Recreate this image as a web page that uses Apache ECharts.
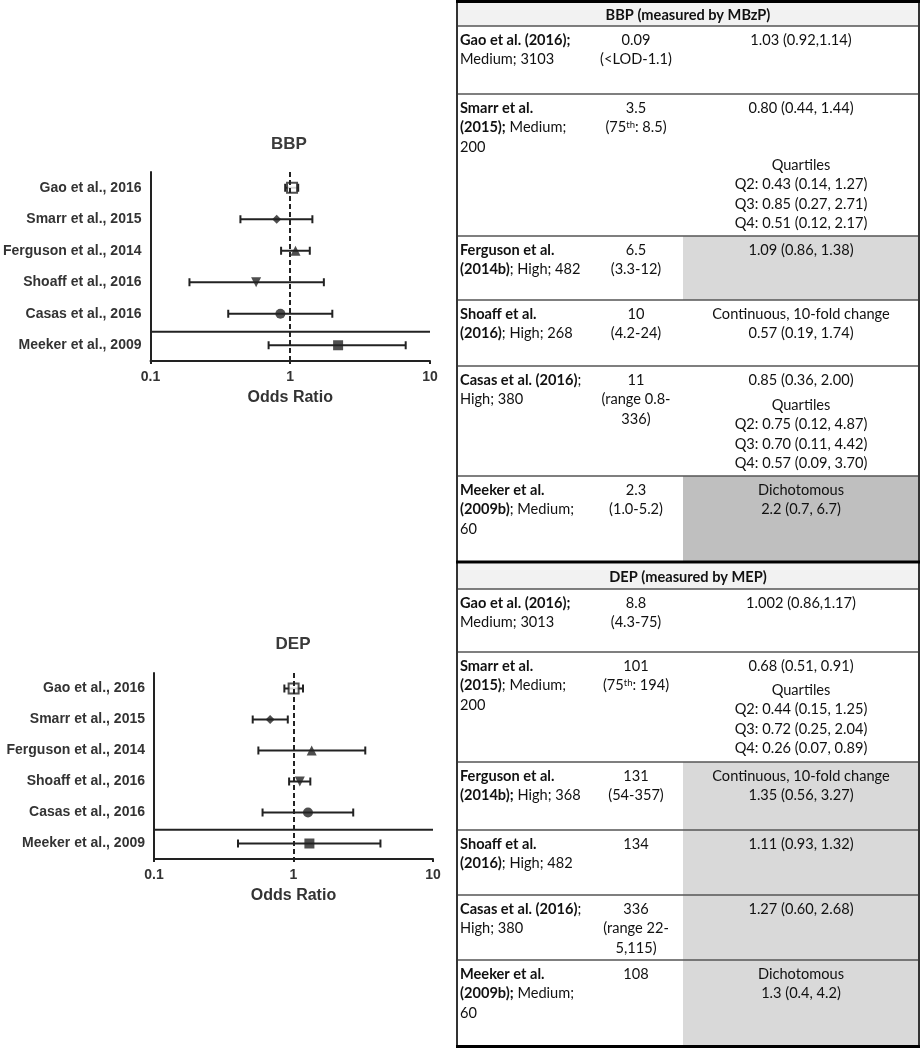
<!DOCTYPE html>
<html><head><meta charset="utf-8">
<script src="https://cdn.jsdelivr.net/npm/echarts@6/dist/echarts.min.js"></script>
<style>html,body{margin:0;padding:0;background:#fff}#c{width:921px;height:1050px}</style>
</head><body><div id="c"></div>
<script>
// ---------------- DATA ----------------
const studies = ['Gao et al., 2016','Smarr et al., 2015','Ferguson et al., 2014','Shoaff et al., 2016','Casas et al., 2016','Meeker et al., 2009'];
const tickLabels = ['0.1','1','10'];
const panelTitles = ['BBP','DEP'];
const axisTitle = 'Odds Ratio';

const bbpOR   = [1.03, 0.80, 1.09, 0.57, 0.85, 2.2];
const bbpLow  = [0.92, 0.44, 0.86, 0.19, 0.36, 0.7];
const bbpHigh = [1.14, 1.44, 1.38, 1.74, 2.00, 6.7];

const depOR   = [1.002, 0.68, 1.35, 1.11, 1.27, 1.3];
const depLow  = [0.86, 0.51, 0.56, 0.93, 0.60, 0.4];
const depHigh = [1.17, 0.91, 3.27, 1.32, 2.68, 4.2];

const tableHeaders = ['BBP (measured by MBzP)', 'DEP (measured by MEP)'];
const bbpStudy = [
  ['{b|Gao et al. (2016);}', 'Medium; 3103'],
  ['{b|Smarr et al.}', '{b|(2015);} Medium;', '200'],
  ['{b|Ferguson et al.}', '{b|(2014b)}; High; 482'],
  ['{b|Shoaff et al.}', '{b|(2016)}; High; 268'],
  ['{b|Casas et al. (2016)};', 'High; 380'],
  ['{b|Meeker et al.}', '{b|(2009b)}; Medium;', '60']
];
const bbpLevel = [['0.09','(<LOD-1.1)'], ['3.5','(75{s|th}: 8.5)'], ['6.5','(3.3-12)'], ['10','(4.2-24)'], ['11','(range 0.8-','336)'], ['2.3','(1.0-5.2)']];
const bbpResult = [['1.03 (0.92,1.14)'], ['0.80 (0.44, 1.44)'], ['1.09 (0.86, 1.38)'], ['Continuous, 10-fold change','0.57 (0.19, 1.74)'], ['0.85 (0.36, 2.00)'], ['Dichotomous','2.2 (0.7, 6.7)']];
const bbpQuart = [null, ['Quartiles','Q2: 0.43 (0.14, 1.27)','Q3: 0.85 (0.27, 2.71)','Q4: 0.51 (0.12, 2.17)'], null, null, ['Quartiles','Q2: 0.75 (0.12, 4.87)','Q3: 0.70 (0.11, 4.42)','Q4: 0.57 (0.09, 3.70)'], null];

const depStudy = [
  ['{b|Gao et al. (2016);}', 'Medium; 3013'],
  ['{b|Smarr et al.}', '{b|(2015)}; Medium;', '200'],
  ['{b|Ferguson et al.}', '{b|(2014b);} High; 368'],
  ['{b|Shoaff et al.}', '{b|(2016)}; High; 482'],
  ['{b|Casas et al. (2016)};', 'High; 380'],
  ['{b|Meeker et al.}', '{b|(2009b);} Medium;', '60']
];
const depLevel = [['8.8','(4.3-75)'], ['101','(75{s|th}: 194)'], ['131','(54-357)'], ['134'], ['336','(range 22-','5,115)'], ['108']];
const depResult = [['1.002 (0.86,1.17)'], ['0.68 (0.51, 0.91)'], ['Continuous, 10-fold change','1.35 (0.56, 3.27)'], ['1.11 (0.93, 1.32)'], ['1.27 (0.60, 2.68)'], ['Dichotomous','1.3 (0.4, 4.2)']];
const depQuart = [null, ['Quartiles','Q2: 0.44 (0.15, 1.25)','Q3: 0.72 (0.25, 2.04)','Q4: 0.26 (0.07, 0.89)'], null, null, null, null];

// ---------------- LAYOUT / STYLE ----------------
const X_MIN = 0.1, X_MAX = 10;
const INK = '#222';
const PF = 'Liberation Sans';
const TF = 'Lato';
const grids = [
  {left: 147, top: 172, width: 283, height: 189},
  {left: 154, top: 673, width: 279, height: 186}
];
const titlePos = [[289, 136], [293, 636]];
const sepFrac = [0.57, 0.56];
const markerStyles = [
  {symbol: 'rect', symbolSize: 10, itemStyle: {color: '#fff', borderColor: INK, borderWidth: 2}},
  {symbol: 'diamond', symbolSize: 9, itemStyle: {color: INK}},
  {symbol: 'triangle', symbolSize: 10, itemStyle: {color: INK}},
  {symbol: 'triangle', symbolSize: 10, symbolRotate: 180, itemStyle: {color: INK}},
  {symbol: 'circle', symbolSize: 10, itemStyle: {color: INK}},
  {symbol: 'rect', symbolSize: 10, itemStyle: {color: INK}}
];

const T = {left: 457, right: 919, c2: 636, c3: 801, shadeX: 683, textX: 460, lh: 19.5, firstOff: 14, fs: 14.6};
const sections = [
  {hdrTop: 3, hdrBot: 26, rows: [26, 94, 236, 300, 366, 476, 561], study: bbpStudy, level: bbpLevel, result: bbpResult, quart: bbpQuart,
   quartOff: [0, 57, 0, 0, 25, 0], shade: [null, null, '#d9d9d9', null, null, '#bfbfbf'], header: tableHeaders[0]},
  {hdrTop: 564, hdrBot: 589, rows: [589, 652, 762, 830, 895, 960, 1045], study: depStudy, level: depLevel, result: depResult, quart: depQuart,
   quartOff: [0, 24, 0, 0, 0, 0], shade: [null, null, '#d9d9d9', '#d9d9d9', '#d9d9d9', '#d9d9d9'], header: tableHeaders[1]}
];

// ---------------- BUILD ----------------
const panels = [[bbpOR, bbpLow, bbpHigh], [depOR, depLow, depHigh]];
const series = [];
panels.forEach(([or, lo, hi], p) => {
  series.push({
    type: 'custom', xAxisIndex: p, yAxisIndex: p, z: 2, silent: true,
    data: studies.map((s, k) => [k, lo[k], hi[k]]),
    encode: {x: [1, 2], y: 0},
    renderItem: (params, api) => {
      const k = api.value(0);
      const a = api.coord([api.value(1), k]);
      const b = api.coord([api.value(2), k]);
      const h = 4, st = {stroke: INK, lineWidth: 2};
      return {type: 'group', children: [
        {type: 'line', shape: {x1: a[0], y1: a[1], x2: b[0], y2: b[1]}, style: st},
        {type: 'line', shape: {x1: a[0], y1: a[1] - h, x2: a[0], y2: a[1] + h}, style: st},
        {type: 'line', shape: {x1: b[0], y1: b[1] - h, x2: b[0], y2: b[1] + h}, style: st}
      ]};
    }
  });
  series.push({
    type: 'custom', xAxisIndex: p, yAxisIndex: p, z: 2, silent: true,
    data: [[studies.length - 2, studies.length - 1]],
    renderItem: (params, api) => {
      const a = api.coord([X_MIN, api.value(0)]);
      const b = api.coord([X_MIN, api.value(1)]);
      const r = api.coord([X_MAX, api.value(1)]);
      const y = a[1] + (b[1] - a[1]) * sepFrac[p];
      return {type: 'line', shape: {x1: a[0], y1: y, x2: r[0], y2: y}, style: {stroke: INK, lineWidth: 2}};
    }
  });
  series.push({
    type: 'scatter', xAxisIndex: p, yAxisIndex: p, z: 3, silent: true,
    data: studies.map((s, k) => Object.assign({value: [or[k], k]}, markerStyles[k])),
    markLine: {silent: true, symbol: 'none', label: {show: false}, animation: false,
      lineStyle: {type: [5, 3], color: INK, width: 2}, data: [{xAxis: 1}]}
  });
});

const graphic = [];
sections.forEach(sec => {
  graphic.push({type: 'rect', shape: {x: T.left, y: sec.hdrTop, width: T.right - T.left, height: sec.hdrBot - sec.hdrTop}, style: {fill: '#f2f2f2'}});
  sec.shade.forEach((c, k) => {
    if (c) graphic.push({type: 'rect', shape: {x: T.shadeX, y: sec.rows[k], width: T.right - T.shadeX, height: sec.rows[k + 1] - sec.rows[k]}, style: {fill: c}});
  });
  graphic.push({type: 'text', x: (T.left + T.right) / 2, y: (sec.hdrTop + sec.hdrBot) / 2 + 1,
    style: {text: sec.header, fontFamily: TF, fontSize: T.fs, fontWeight: 'bold', fill: '#111', align: 'center', verticalAlign: 'middle'}});
  sec.rows.slice(0, -1).forEach(y => {
    graphic.push({type: 'line', shape: {x1: T.left, y1: y, x2: T.right, y2: y}, style: {stroke: '#555', lineWidth: 1.5}});
  });
  const rich = {b: {fontWeight: 'bold', fontFamily: TF, fontSize: T.fs, fill: '#111'}, s: {fontSize: 9.5, fontFamily: TF, verticalAlign: 'top', fill: '#111'}};
  const addLines = (lines, x, y0, align) => lines.forEach((t, i) => {
    graphic.push({type: 'text', x: x, y: y0 + i * T.lh,
      style: {text: t, fontFamily: TF, fontSize: T.fs, fill: '#111', align: align, verticalAlign: 'middle', rich: rich}});
  });
  for (let k = 0; k < 6; k++) {
    const y0 = sec.rows[k] + T.firstOff;
    addLines(sec.study[k], T.textX, y0, 'left');
    addLines(sec.level[k], T.c2, y0, 'center');
    addLines(sec.result[k], T.c3, y0, 'center');
    if (sec.quart[k]) addLines(sec.quart[k], T.c3, y0 + sec.quartOff[k], 'center');
  }
});
graphic.push({type: 'line', shape: {x1: T.left, y1: 0, x2: T.left, y2: 1048}, style: {stroke: '#333', lineWidth: 2}});
graphic.push({type: 'line', shape: {x1: T.right, y1: 0, x2: T.right, y2: 1048}, style: {stroke: '#333', lineWidth: 2}});
[1.5, 562, 1046.5].forEach(y => graphic.push({type: 'line', shape: {x1: T.left - 1, y1: y, x2: T.right + 1, y2: y}, style: {stroke: '#000', lineWidth: 3}}));

const lblStyle = {fontFamily: PF, fontSize: 14, fontWeight: 'bold', color: '#333'};
const option = {
  animation: false,
  backgroundColor: '#fff',
  title: panelTitles.map((t, i) => ({text: t, left: titlePos[i][0], top: titlePos[i][1], padding: 0, textAlign: 'center',
    textStyle: {fontFamily: PF, fontSize: 17, fontWeight: 'bold', color: '#3a3a3a'}})),
  grid: grids,
  xAxis: grids.map((g, i) => ({
    type: 'log', logBase: 10, gridIndex: i, min: X_MIN, max: X_MAX,
    name: axisTitle, nameLocation: 'middle', nameGap: 29,
    nameTextStyle: {fontFamily: PF, fontSize: 16, fontWeight: 'bold', color: '#333'},
    axisLine: {show: true, onZero: false, lineStyle: {color: INK, width: 2}},
    axisTick: {show: true, length: 3, lineStyle: {color: INK, width: 2}},
    minorTick: {show: false},
    splitLine: {show: false},
    axisLabel: Object.assign({margin: 9, formatter: v => tickLabels[Math.round(Math.log10(v)) + 1]}, lblStyle)
  })),
  yAxis: grids.map((g, i) => ({
    type: 'category', gridIndex: i, data: studies, inverse: true, boundaryGap: true,
    axisLine: {show: true, lineStyle: {color: INK, width: 2}},
    axisTick: {alignWithLabel: true, length: 5, lineStyle: {color: INK, width: 2}},
    splitLine: {show: false},
    axisLabel: Object.assign({margin: 9}, lblStyle)
  })),
  series: series,
  graphic: graphic
};
const chart = echarts.init(document.getElementById('c'), null, {renderer: 'canvas'});
chart.setOption(option);
</script>
</body></html>
